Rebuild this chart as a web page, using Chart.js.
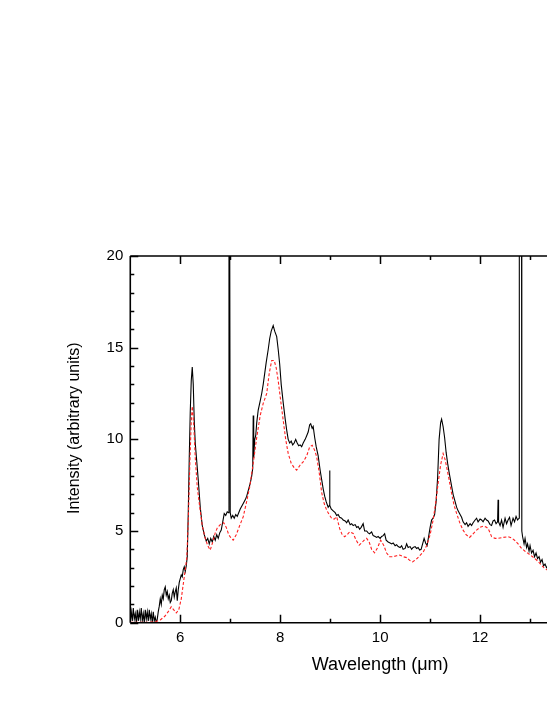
<!DOCTYPE html>
<html>
<head>
<meta charset="utf-8">
<script src="https://cdn.jsdelivr.net/npm/chart.js@4.4.1/dist/chart.umd.min.js"></script>
<style>
  html, body { margin: 0; padding: 0; background: #fff; overflow: hidden; }
  #wrap { width: 547px; height: 708px; overflow: hidden; }
  canvas { display: block; }
</style>
</head>
<body>
<div id="wrap"><canvas id="c" width="650" height="708"></canvas></div>
<script>
// ---- data ----
const xTitle = 'Wavelength (\u03bcm)';
const yTitle = '\u00a0\u00a0\u00a0\u00a0\u00a0Intensity (arbitrary units)';
const xTickValues = [6, 8, 10, 12, 14];
const xMinorValues = [7, 9, 11, 13];
const yTickValues = [0, 5, 10, 15, 20];
const yMinorValues = [1, 2, 3, 4, 6, 7, 8, 9, 11, 12, 13, 14, 16, 17, 18, 19];

const measuredWl = [
  5.00, 5.02, 5.04, 5.06, 5.08, 5.10, 5.12, 5.14, 5.16, 5.18, 5.20, 5.22, 5.24, 5.26, 5.28, 5.30,
  5.32, 5.34, 5.36, 5.38, 5.40, 5.42, 5.44, 5.46, 5.48, 5.50, 5.52, 5.54, 5.56, 5.58, 5.60, 5.62,
  5.64, 5.66, 5.68, 5.70, 5.72, 5.74, 5.76, 5.78, 5.80, 5.82, 5.84, 5.86, 5.88, 5.90, 5.92, 5.94,
  5.96, 5.98, 6.00, 6.02, 6.04, 6.06, 6.08, 6.10, 6.12, 6.14, 6.16, 6.18, 6.20, 6.22, 6.24, 6.26,
  6.28, 6.30, 6.33, 6.36, 6.40, 6.44, 6.48, 6.52, 6.55, 6.58, 6.61, 6.64, 6.67, 6.70, 6.73, 6.76,
  6.79, 6.82, 6.85, 6.88, 6.91, 6.94, 6.965, 6.975, 6.99, 7.00, 7.02, 7.05, 7.08, 7.11, 7.14, 7.17,
  7.20, 7.23, 7.26, 7.30, 7.33, 7.36, 7.40, 7.43, 7.45, 7.46, 7.47, 7.49, 7.51, 7.53, 7.56, 7.60,
  7.63, 7.66, 7.69, 7.72, 7.76, 7.79, 7.82, 7.86, 7.89, 7.93, 7.96, 7.99, 8.02, 8.06, 8.10, 8.13,
  8.16, 8.19, 8.22, 8.25, 8.28, 8.31, 8.34, 8.37, 8.40, 8.43, 8.46, 8.50, 8.53, 8.56, 8.59, 8.61,
  8.64, 8.66, 8.69, 8.72, 8.76, 8.80, 8.83, 8.86, 8.89, 8.92, 8.96, 8.985, 8.99, 8.995, 9.02, 9.06,
  9.10, 9.13, 9.16, 9.19, 9.23, 9.26, 9.30, 9.33, 9.36, 9.40, 9.43, 9.46, 9.50, 9.53, 9.56, 9.59,
  9.62, 9.66, 9.69, 9.73, 9.76, 9.79, 9.83, 9.86, 9.90, 9.93, 9.96, 10.00, 10.03, 10.06, 10.09, 10.12,
  10.16, 10.20, 10.23, 10.26, 10.30, 10.33, 10.36, 10.40, 10.43, 10.46, 10.50, 10.53, 10.56, 10.60, 10.63, 10.66,
  10.70, 10.73, 10.76, 10.79, 10.82, 10.85, 10.88, 10.91, 10.94, 10.97, 11.00, 11.03, 11.06, 11.09, 11.12, 11.15,
  11.18, 11.21, 11.23, 11.26, 11.29, 11.32, 11.35, 11.38, 11.42, 11.46, 11.50, 11.53, 11.56, 11.60, 11.63, 11.66,
  11.70, 11.73, 11.76, 11.80, 11.83, 11.86, 11.90, 11.93, 11.96, 12.00, 12.03, 12.06, 12.10, 12.13, 12.16, 12.20,
  12.23, 12.26, 12.29, 12.32, 12.35, 12.36, 12.37, 12.40, 12.43, 12.46, 12.50, 12.53, 12.56, 12.59, 12.62, 12.66,
  12.69, 12.72, 12.75, 12.78, 12.785, 12.83, 12.835, 12.85, 12.88, 12.90, 12.93, 12.95, 12.98, 13.00, 13.03, 13.06,
  13.09, 13.12, 13.15, 13.18, 13.21, 13.24, 13.27, 13.30, 13.33, 13.36, 13.40
];
const measuredI = [
  0.1, 0.6, 0.1, 0.8, 0.2, 0.5, 0.0, 0.7, 0.1, 0.6, 0.2, 0.8, 0.1, 0.5, 0.0, 0.7,
  0.2, 0.6, 0.1, 0.7, 0.2, 0.5, 0.0, 0.6, 0.1, 0.3, 0.0, 0.2, 0.6, 0.9, 1.3, 1.0,
  1.5, 1.3, 1.8, 1.95, 1.5, 1.7, 1.3, 1.5, 1.1, 1.2, 1.6, 1.8, 1.4, 1.7, 1.9, 1.2,
  1.8, 2.2, 2.4, 2.6, 2.5, 2.9, 3.05, 2.8, 3.1, 3.6, 6.0, 9.0, 11.5, 13.2, 13.95, 13.0,
  11.0, 9.8, 8.8, 7.8, 6.3, 5.3, 4.8, 4.45, 4.6, 4.3, 4.6, 4.4, 4.7, 4.5, 4.8, 4.6,
  4.9, 5.05, 5.5, 5.95, 5.85, 6.05, 6.0, 21, 21, 6.0, 5.7, 5.85, 5.7, 5.9, 5.8, 6.0,
  6.2, 6.35, 6.5, 6.7, 6.9, 7.2, 7.6, 8.0, 8.4, 11.3, 9.0, 10.0, 10.2, 10.9, 11.6, 12.1,
  12.5, 13.0, 13.6, 14.2, 14.9, 15.5, 15.9, 16.2, 15.9, 15.6, 14.9, 14.1, 13.0, 12.0, 11.1, 10.5,
  10.0, 9.8, 9.9, 9.7, 9.8, 10.0, 9.8, 9.65, 9.7, 9.6, 9.8, 10.0, 10.2, 10.4, 10.8, 10.85,
  10.6, 10.7, 10.1, 9.6, 9.1, 8.3, 7.8, 7.3, 6.9, 6.6, 6.3, 6.4, 8.3, 6.4, 6.2, 6.1,
  6.0, 5.85, 5.9, 5.75, 5.7, 5.6, 5.55, 5.45, 5.6, 5.35, 5.4, 5.3, 5.35, 5.2, 5.25, 5.1,
  5.2, 5.4, 5.0, 5.0, 4.9, 4.85, 4.95, 4.75, 4.7, 4.65, 4.7, 4.6, 4.7, 4.75, 4.85, 4.5,
  4.4, 4.35, 4.3, 4.35, 4.2, 4.25, 4.15, 4.1, 4.2, 4.0, 4.05, 4.3, 4.1, 4.15, 4.0, 4.1,
  4.15, 4.05, 4.1, 3.96, 4.0, 4.3, 4.6, 4.35, 4.2, 4.7, 5.2, 5.6, 5.7, 5.9, 6.6, 7.9,
  10.0, 10.9, 11.1, 10.7, 10.1, 9.3, 8.7, 8.2, 7.6, 7.0, 6.6, 6.3, 6.1, 5.9, 5.75, 5.5,
  5.35, 5.45, 5.25, 5.4, 5.3, 5.45, 5.6, 5.7, 5.5, 5.65, 5.6, 5.5, 5.7, 5.6, 5.55, 5.35,
  5.3, 5.55, 5.6, 5.4, 5.5, 6.7, 5.5, 5.3, 5.6, 5.2, 5.7, 5.4, 5.6, 5.75, 5.3, 5.7,
  5.5, 5.8, 5.6, 5.7, 21, 21, 5.0, 4.7, 4.3, 4.6, 4.1, 4.3, 3.9, 4.2, 3.8, 3.95,
  3.6, 3.8, 3.5, 3.6, 3.3, 3.45, 3.1, 3.2, 3.0, 3.1, 2.9
];

const modelWl = [
  5.00, 5.20, 5.40, 5.50, 5.60, 5.69, 5.76, 5.82, 5.87, 5.92, 5.97, 6.02, 6.06, 6.09, 6.13, 6.16,
  6.19, 6.22, 6.24, 6.27, 6.30, 6.34, 6.39, 6.44, 6.50, 6.55, 6.60, 6.65, 6.70, 6.74, 6.80, 6.87,
  6.92, 6.97, 7.02, 7.06, 7.12, 7.19, 7.26, 7.32, 7.39, 7.46, 7.53, 7.60, 7.66, 7.73, 7.78, 7.83,
  7.88, 7.92, 7.96, 8.01, 8.06, 8.11, 8.16, 8.22, 8.28, 8.33, 8.40, 8.46, 8.53, 8.59, 8.64, 8.69,
  8.73, 8.78, 8.83, 8.88, 8.93, 8.98, 9.03, 9.08, 9.13, 9.19, 9.24, 9.29, 9.34, 9.39, 9.46, 9.52,
  9.58, 9.63, 9.68, 9.73, 9.78, 9.83, 9.89, 9.95, 10.01, 10.07, 10.13, 10.19, 10.26, 10.33, 10.39, 10.46,
  10.53, 10.59, 10.65, 10.72, 10.79, 10.86, 10.93, 11.00, 11.06, 11.11, 11.16, 11.21, 11.26, 11.30, 11.33, 11.38,
  11.43, 11.48, 11.53, 11.60, 11.66, 11.72, 11.79, 11.86, 11.93, 12.00, 12.06, 12.12, 12.16, 12.20, 12.23, 12.30,
  12.36, 12.46, 12.56, 12.63, 12.69, 12.76, 12.83, 12.90, 12.96, 13.05, 13.13, 13.21, 13.29, 13.36, 13.40
];
const modelI = [
  0.02, 0.02, 0.03, 0.05, 0.15, 0.35, 0.6, 0.87, 0.7, 0.53, 0.7, 1.3, 2.1, 2.7, 3.5, 5.5,
  8.5, 11.0, 11.8, 10.8, 9.0, 7.4, 6.3, 5.3, 4.6, 4.2, 3.96, 4.4, 4.9, 5.16, 5.35, 5.45,
  5.2, 4.8, 4.6, 4.5, 4.8, 5.3, 5.78, 6.5, 7.41, 8.7, 10.1, 11.3, 11.96, 12.5, 13.6, 14.3,
  14.3, 13.9, 13.2, 12.1, 11.05, 10.0, 9.23, 8.7, 8.45, 8.32, 8.6, 8.77, 9.1, 9.59, 9.68, 9.4,
  9.05, 8.2, 7.1, 6.5, 6.14, 5.9, 5.69, 5.65, 5.78, 5.14, 4.8, 4.69, 4.8, 4.96, 4.87, 4.5,
  4.23, 4.35, 4.5, 4.6, 4.4, 4.0, 3.81, 4.1, 4.5, 4.23, 3.8, 3.6, 3.6, 3.65, 3.69, 3.6,
  3.55, 3.4, 3.32, 3.45, 3.65, 3.85, 4.2, 4.8, 5.6, 6.5, 7.6, 8.6, 9.23, 8.9, 8.5, 7.8,
  7.05, 6.4, 5.96, 5.4, 5.05, 4.8, 4.65, 4.85, 5.05, 5.2, 5.27, 5.22, 5.14, 4.9, 4.69, 4.6,
  4.6, 4.65, 4.69, 4.62, 4.5, 4.3, 4.05, 3.9, 3.78, 3.6, 3.42, 3.2, 2.96, 2.85, 2.8
];

// ---- chart ----
const FONT = "'Liberation Sans', Arial, Helvetica, sans-serif";

const framePlugin = {
  id: 'frame',
  afterDraw(chart) {
    const { ctx, chartArea: a, scales: { x, y } } = chart;
    ctx.save();
    ctx.strokeStyle = '#000';
    ctx.lineWidth = 1.6;
    ctx.beginPath();
    ctx.moveTo(a.left, a.top); ctx.lineTo(a.right, a.top);
    ctx.moveTo(a.left, a.bottom); ctx.lineTo(a.right, a.bottom);
    ctx.moveTo(a.left, a.top); ctx.lineTo(a.left, a.bottom);
    ctx.moveTo(a.right, a.top); ctx.lineTo(a.right, a.bottom);
    ctx.stroke();
    ctx.lineWidth = 1.5;
    ctx.beginPath();
    const xt = (v, len) => {
      const px = Math.round(x.getPixelForValue(v)) + 0.5;
      ctx.moveTo(px, a.bottom); ctx.lineTo(px, a.bottom - len);
      ctx.moveTo(px, a.top); ctx.lineTo(px, a.top + len);
    };
    const yt = (v, len) => {
      const py = Math.round(y.getPixelForValue(v)) + 0.5;
      ctx.moveTo(a.left, py); ctx.lineTo(a.left + len, py);
      ctx.moveTo(a.right, py); ctx.lineTo(a.right - len, py);
    };
    xTickValues.forEach(v => xt(v, 8));
    xMinorValues.forEach(v => xt(v, 4));
    yTickValues.forEach(v => yt(v, 8));
    yMinorValues.forEach(v => yt(v, 4));
    ctx.stroke();
    ctx.restore();
  }
};

new Chart(document.getElementById('c'), {
  type: 'line',
  data: {
    datasets: [
      {
        label: 'model',
        data: modelWl.map((w, i) => ({ x: w, y: modelI[i] })),
        borderColor: '#ff2020',
        borderWidth: 1.1,
        borderDash: [3, 2],
        pointRadius: 0,
        tension: 0,
        fill: false,
        order: 0
      },
      {
        label: 'measured',
        data: measuredWl.map((w, i) => ({ x: w, y: measuredI[i] })),
        borderColor: '#000000',
        borderWidth: 1.1,
        pointRadius: 0,
        tension: 0,
        fill: false,
        order: 1
      }
    ]
  },
  plugins: [framePlugin],
  options: {
    responsive: false,
    animation: false,
    devicePixelRatio: 1,
    layout: { padding: { left: 40, top: 256, right: 20, bottom: 28 } },
    plugins: { legend: { display: false }, tooltip: { enabled: false } },
    scales: {
      x: {
        type: 'linear',
        min: 5,
        max: 15,
        afterBuildTicks: s => { s.ticks = xTickValues.map(v => ({ value: v })); },
        grid: { display: false, drawTicks: false },
        border: { display: false },
        ticks: { color: '#000', padding: 6, maxRotation: 0, autoSkip: false,
                 font: { family: FONT, size: 15 } },
        title: { display: true, text: xTitle, color: '#000',
                 font: { family: FONT, size: 18 }, padding: { top: 1.7, bottom: 4 } }
      },
      y: {
        type: 'linear',
        min: 0,
        max: 20,
        afterBuildTicks: s => { s.ticks = yTickValues.map(v => ({ value: v })); },
        grid: { display: false, drawTicks: false },
        border: { display: false },
        ticks: { color: '#000', padding: 7, font: { family: FONT, size: 15 } },
        title: { display: true, text: yTitle, color: '#000',
                 font: { family: FONT, size: 16 }, padding: { top: 25.4, bottom: 15 } }
      }
    }
  }
});
</script>
</body>
</html>
